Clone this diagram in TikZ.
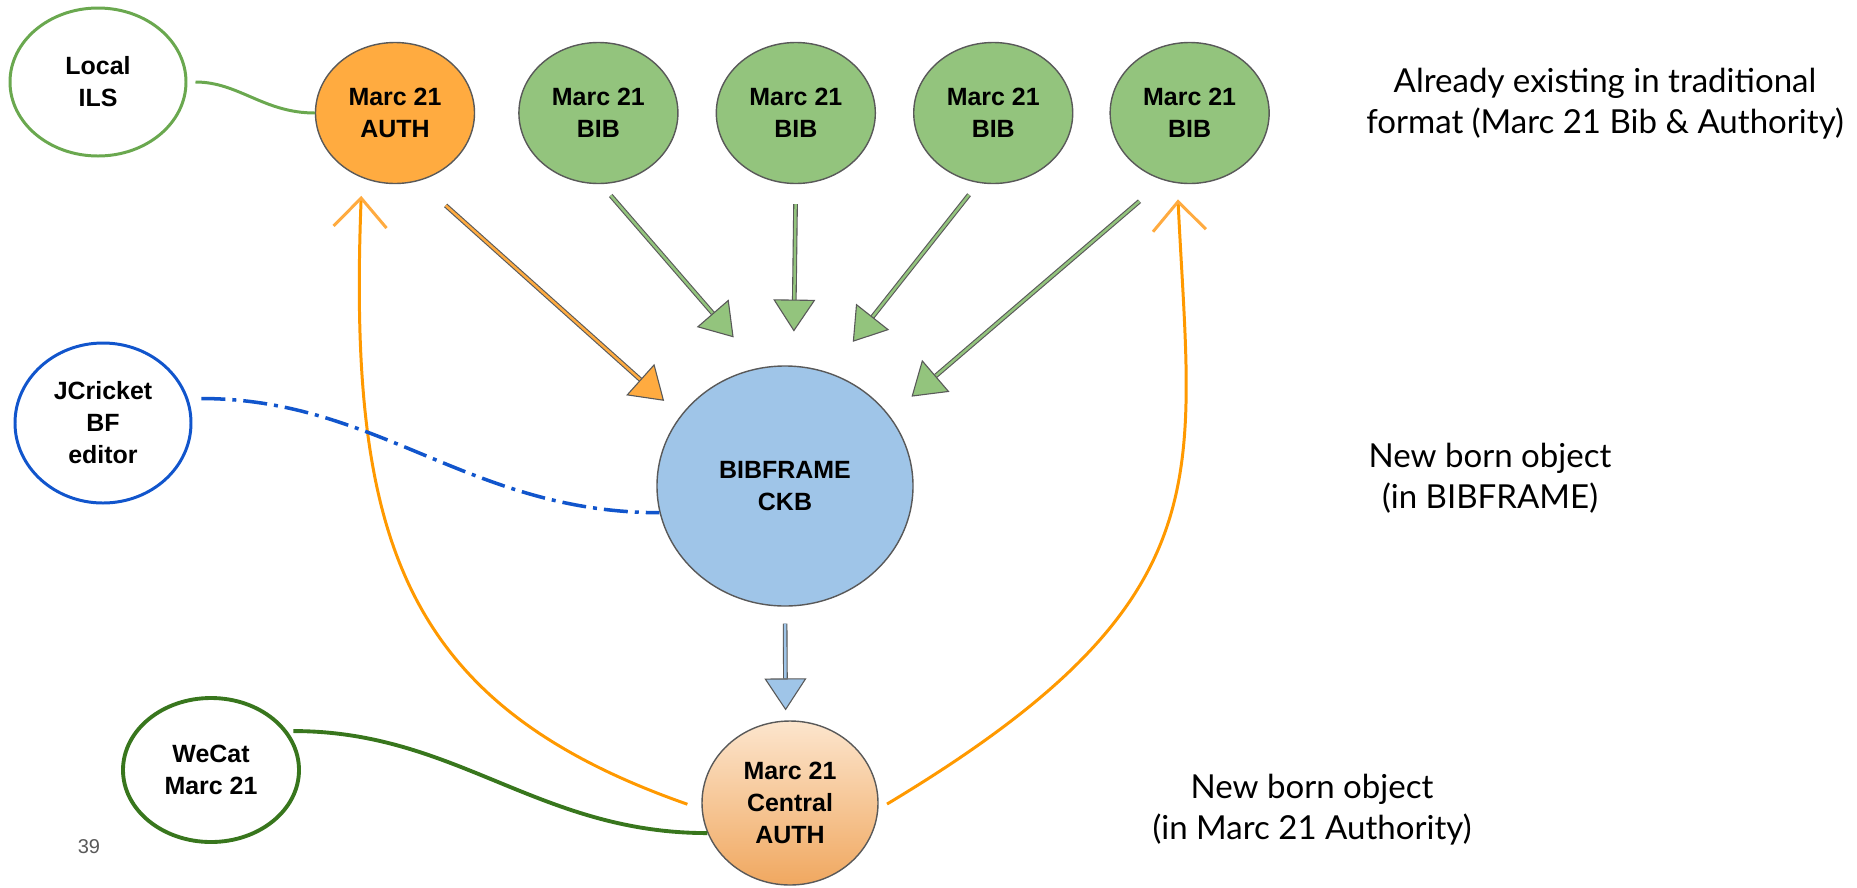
\documentclass[tikz,border=0pt]{standalone}
\usepackage{fontspec}
\setmainfont{Liberation Sans}
\newfontfamily\notefont{Lato}
\usetikzlibrary{arrows.meta,positioning,shapes.geometric}
\definecolor{bfgray}{HTML}{595959}
\definecolor{bforange}{HTML}{FFAB40}
\definecolor{bfgreen}{HTML}{93C47D}
\definecolor{bfblue}{HTML}{9FC5E8}
\definecolor{ilsgreen}{HTML}{6AA84F}
\definecolor{wecatgreen}{HTML}{38761D}
\definecolor{jcblue}{HTML}{1155CC}
\definecolor{linkorange}{HTML}{FF9900}
\definecolor{peachtop}{HTML}{FCE5CD}
\definecolor{peachbot}{HTML}{F0A860}

\begin{document}
\begin{tikzpicture}[
    x=0.2mm, y=-0.2mm,
    blob/.style={ellipse, inner sep=0pt, align=center, font=\bfseries\fontsize{14.2}{18.2}\selectfont},
    record/.style={blob, draw=bfgray, line width=0.8pt, minimum width=31.8mm, minimum height=28.2mm},
    auth/.style={record, fill=bforange},
    bib/.style={record, fill=bfgreen},
    source/.style={blob, fill=white, line width=1.7pt, minimum width=35.2mm, minimum height=29.6mm},
    feed/.style={draw=bfgray, line width=0.22mm, double=#1, double distance=0.5mm,
      -{Triangle[length=6.4mm, width=8.4mm, fill=#1]}},
    backlink/.style={linkorange, line width=1.7pt,
      -{Straight Barb[length=5.8mm, width=10.6mm, color=bforange]}},
    note/.style={inner sep=0pt, align=center, font=\notefont\fontsize{18.8}{23.3}\selectfont}
  ]
    \useasboundingbox (0,0) rectangle (1857,887);

    % top row: traditional records
    \node[auth] (auth) at (395,113) {Marc 21\\AUTH};
    \node[bib, right=8.6mm of auth] (bib1) {Marc 21\\BIB};
    \node[bib, right=7.4mm of bib1] (bib2) {Marc 21\\BIB};
    \node[bib, right=7.4mm of bib2] (bib3) {Marc 21\\BIB};
    \node[bib, right=7.2mm of bib3] (bib4) {Marc 21\\BIB};

    % sources on the left
    \node[source, draw=ilsgreen] (ils) at (98,82) {Local\\ILS};
    \node[source, draw=jcblue, minimum height=32mm] (jc) at (103,423) {JCricket\\BF\\editor};
    \node[source, draw=wecatgreen, line width=2.2pt, minimum width=35.2mm, minimum height=28.8mm] (wecat) at (211,770) {WeCat\\Marc 21};

    % knowledge base and central authority
    \node[blob, fill=bfblue, draw=bfgray, line width=0.8pt, minimum width=51.2mm, minimum height=48mm] (ckb) at (785,486) {BIBFRAME\\CKB};
    \node[blob, draw=bfgray, line width=0.8pt, top color=peachtop, bottom color=peachbot,
      minimum width=35.2mm, minimum height=32.8mm] (central) at (790,803) {Marc 21\\Central\\AUTH};

    % notes
    \node[note] (n1) at (1605,104) {Already existing in traditional\\format (Marc 21 Bib \& Authority)};
    \node[note] (n2) at (1490,478) {New born object\\(in BIBFRAME)};
    \node[note] (n3) at (1312,810) {New born object\\(in Marc 21 Authority)};
    \node[inner sep=0pt, text=bfgray, font=\fontsize{11.4}{13}\selectfont] (page) at (89,847) {39};

    % conversion into the CKB
    \draw[feed=bforange, shorten <=7.3mm, shorten >=4.4mm] (auth.289) -- (ckb.146);
    \draw[feed=bfgreen, shorten <=3mm, shorten >=8mm] (bib1.272) -- (ckb.102);
    \draw[feed=bfgreen, shorten <=4mm, shorten >=6.8mm] (bib2.south) -- (ckb.86);
    \draw[feed=bfgreen, shorten <=3mm, shorten >=7.8mm] (bib3.258) -- (ckb.69);
    \draw[feed=bfgreen, shorten <=6.4mm, shorten >=5.8mm] (bib4.249) -- (ckb.34);
    \draw[feed=bfblue, shorten <=3.4mm, shorten >=2mm] (ckb.south) -- (central.93);

    % back to the records
    \draw[backlink, shorten <=3mm, shorten >=3.6mm] (central.184) .. controls +(-300,-105) and +(-14,360) .. (auth.243);
    \draw[backlink, shorten <=2mm, shorten >=3.2mm] (central.356) .. controls +(350,-210) and +(14,297) .. (bib4.260);

    % links to the sources
    \draw[ilsgreen, line width=1.7pt, shorten <=1.6mm] (ils.east) to[out=0, in=180] (auth.west);
    \draw[wecatgreen, line width=2.2pt, shorten <=1.2mm] (wecat.27) to[out=0, in=180] (central.200);
    \draw[jcblue, line width=2pt, dash pattern=on 4.8mm off 1.4mm on 0.8mm off 1.4mm, shorten <=2.6mm]
      (jc.16) to[out=0, in=180] (ckb.192);
  \end{tikzpicture}
\end{document}
